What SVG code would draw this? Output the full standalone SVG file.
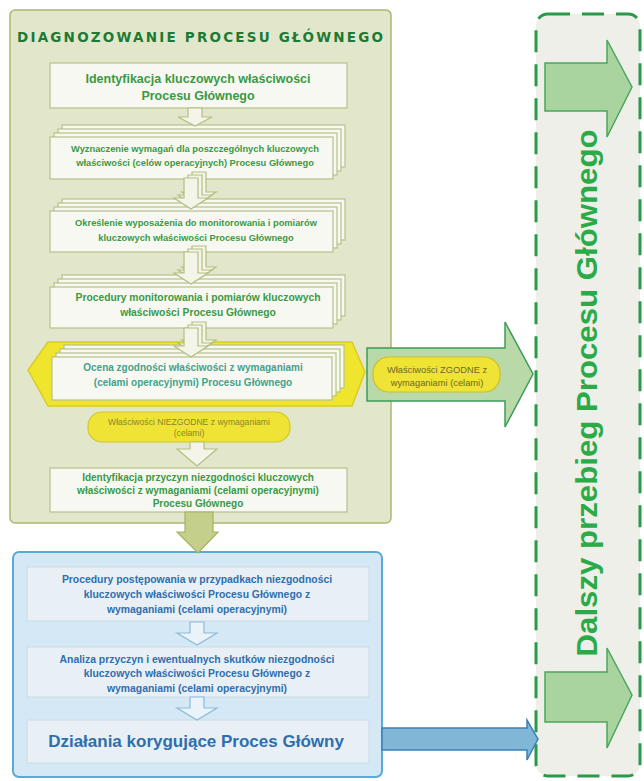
<svg xmlns="http://www.w3.org/2000/svg" width="644" height="781" viewBox="0 0 644 781">
<defs>
<style>
.gbox{fill:#f8f8f2;stroke:#b7c189;stroke-width:1.2}
.gt{font-family:"Liberation Sans",Arial,sans-serif;font-weight:bold;fill:#3a9a44;text-anchor:middle}
.bt{font-family:"Liberation Sans",Arial,sans-serif;font-weight:bold;fill:#2f6eae;text-anchor:middle}
.bbox{fill:#e9f0f5;stroke:#c9dbe8;stroke-width:1}
.harr{fill:#f4f5e8;stroke:#b3bf80;stroke-width:1.2}
.barr{fill:#eaf3f9;stroke:#8dbbd8;stroke-width:1.2}
</style>
</defs>
<rect width="644" height="781" fill="#ffffff"/>

<!-- Right dashed panel -->
<g id="dalszy">
<rect x="536" y="14" width="104" height="762" rx="12" fill="#efefea" stroke="#2a9a4a" stroke-width="3" stroke-dasharray="22 12"/>
<path d="M545,63 H607 V40 L632,87 L607,137 V111 H545 Z" fill="#a9d39f" stroke="#4aa85a" stroke-width="1.5"/>
<path d="M545,672 H607 V648 L632,695 L607,748 V722 H545 Z" fill="#a9d39f" stroke="#4aa85a" stroke-width="1.5"/>
<text transform="translate(597,393) rotate(-90)" font-family="'Liberation Sans',Arial,sans-serif" font-weight="bold" font-size="29" fill="#2aab48" text-anchor="middle" textLength="527" lengthAdjust="spacingAndGlyphs">Dalszy przebieg Procesu Głównego</text>
</g>

<!-- Green panel -->
<g id="diagnozowanie">
<rect x="10" y="10" width="381" height="513" rx="5" fill="#e2e7cc" stroke="#a9b872" stroke-width="1.5"/>
<text x="200" y="42" font-family="'DejaVu Sans',sans-serif" font-weight="bold" font-size="13.5" fill="#1d7a35" text-anchor="middle" textLength="366" lengthAdjust="spacing">DIAGNOZOWANIE  PROCESU  GŁÓWNEGO</text>
</g>

<g id="box1">
<rect class="gbox" x="50" y="63" width="297" height="45"/>
<text class="gt" x="198" y="83" font-size="12.5">Identyfikacja kluczowych właściwości</text>
<text class="gt" x="198" y="100" font-size="12.5">Procesu Głównego</text>
</g>

<g id="box2">
<rect class="gbox" x="62" y="125" width="283" height="42"/>
<rect class="gbox" x="58" y="129" width="283" height="42"/>
<rect class="gbox" x="54" y="133" width="283" height="42"/>
<rect class="gbox" x="50" y="137" width="283" height="42"/>
<text class="gt" x="195" y="152" font-size="9.3">Wyznaczenie wymagań  dla poszczególnych kluczowych</text>
<text class="gt" x="195" y="166" font-size="9.3">właściwości (celów operacyjnych) Procesu Głównego</text>
</g>

<g id="box3">
<rect class="gbox" x="62" y="199" width="283" height="41"/>
<rect class="gbox" x="58" y="203" width="283" height="41"/>
<rect class="gbox" x="54" y="207" width="283" height="41"/>
<rect class="gbox" x="50" y="211" width="283" height="41"/>
<text class="gt" x="196" y="226" font-size="9.3">Określenie wyposażenia do monitorowania i pomiarów</text>
<text class="gt" x="196" y="241" font-size="9.3">kluczowych  właściwości Procesu Głównego</text>
</g>

<g id="box4">
<rect class="gbox" x="62" y="275" width="283" height="41"/>
<rect class="gbox" x="58" y="279" width="283" height="41"/>
<rect class="gbox" x="54" y="283" width="283" height="41"/>
<rect class="gbox" x="50" y="287" width="283" height="41"/>
<text class="gt" x="198" y="301" font-size="10.3">Procedury monitorowania i pomiarów kluczowych</text>
<text class="gt" x="198" y="316" font-size="10.3">właściwości Procesu Głównego</text>
</g>

<g id="box5">
<path d="M48,342 H352 L365,372 L352,406 H48 L28,370 Z" fill="#eee52c" stroke="#d9cb25" stroke-width="1.5"/>
<rect class="gbox" x="64" y="345" width="280" height="43"/>
<rect class="gbox" x="60" y="349" width="280" height="43"/>
<rect class="gbox" x="56" y="353" width="280" height="43"/>
<rect class="gbox" x="52" y="357" width="280" height="43"/>
<text class="gt" x="193" y="371" font-size="10" style="fill:#45a08a">Ocena zgodności właściwości z wymaganiami</text>
<text class="gt" x="193" y="386" font-size="10" style="fill:#45a08a">(celami operacyjnymi) Procesu Głównego</text>
</g>

<g id="niezgodne">
<rect x="88" y="412" width="202" height="30" rx="14" fill="#efe435" stroke="#d4c62a" stroke-width="1.2"/>
<text x="189" y="425" font-family="'Liberation Sans',Arial,sans-serif" font-size="8.6" fill="#8a842c" text-anchor="middle">Właściwości NIEZGODNE z wymaganiami</text>
<text x="189" y="436" font-family="'Liberation Sans',Arial,sans-serif" font-size="8.6" fill="#8a842c" text-anchor="middle">(celami)</text>
</g>

<g id="box6">
<rect class="gbox" x="50" y="468" width="297" height="44"/>
<text class="gt" x="198" y="481" font-size="10">Identyfikacja przyczyn niezgodności kluczowych</text>
<text class="gt" x="198" y="494" font-size="10">właściwości z wymaganiami (celami operacyjnymi)</text>
<text class="gt" x="198" y="507" font-size="10">Procesu Głównego</text>
</g>

<!-- Blue panel -->
<g id="korygowanie">
<rect x="13" y="552" width="369" height="225" rx="6" fill="#d4e8f5" stroke="#5aaad8" stroke-width="2"/>
</g>

<g id="bbox1">
<rect class="bbox" x="27" y="567" width="342" height="54"/>
<text class="bt" x="197" y="583" font-size="10.4">Procedury postępowania w przypadkach  niezgodności</text>
<text class="bt" x="197" y="598" font-size="10.4">kluczowych  właściwości Procesu Głównego z</text>
<text class="bt" x="197" y="613" font-size="10.4">wymaganiami (celami operacyjnymi)</text>
</g>

<g id="bbox2">
<rect class="bbox" x="27" y="647" width="342" height="50"/>
<text class="bt" x="197" y="663" font-size="10.4">Analiza  przyczyn  i  ewentualnych skutków niezgodności</text>
<text class="bt" x="197" y="677" font-size="10.4">kluczowych właściwości Procesu Głównego z</text>
<text class="bt" x="197" y="692" font-size="10.4">wymaganiami (celami operacyjnymi)</text>
</g>

<g id="bbox3">
<rect class="bbox" x="27" y="720" width="342" height="43"/>
<text class="bt" x="196" y="747" font-size="17">Działania korygujące Proces Główny</text>
</g>

<!-- Connectors -->
<g id="connectors">
<path class="harr" d="M188,108 H202 V117 H212 L195,126 L178,117 H188 Z"/>
<path class="harr" d="M192,172 H206 V192 H216 L199,203 L182,192 H192 Z"/>
<path class="harr" d="M188,175 H202 V195 H212 L195,206 L178,195 H188 Z"/>
<path class="harr" d="M184,178 H198 V198 H208 L191,209 L174,198 H184 Z"/>
<path class="harr" d="M192,246 H206 V267 H216 L199,278 L182,267 H192 Z"/>
<path class="harr" d="M188,249 H202 V270 H212 L195,281 L178,270 H188 Z"/>
<path class="harr" d="M184,252 H198 V273 H208 L191,284 L174,273 H184 Z"/>
<path class="harr" d="M192,322 H206 V340 H216 L199,351 L182,340 H192 Z"/>
<path class="harr" d="M188,325 H202 V343 H212 L195,354 L178,343 H188 Z"/>
<path class="harr" d="M184,328 H198 V346 H208 L191,357 L174,346 H184 Z"/>
<path class="harr" d="M190,442 H204 V449 H217 L197,466 L177,449 H190 Z"/>
<path d="M185,512 H213 V532 H218 L198,553 L177,532 H185 Z" fill="#c4cf8c" stroke="#a5b160" stroke-width="1.2"/>
<path d="M367,348 H505 V322 L533,374 L505,427 V401 H367 Z" fill="#b9d9a9" stroke="#3d9c5a" stroke-width="1.5"/>
<rect x="373" y="357" width="127" height="35" rx="16" fill="#efe435" stroke="#cdbf28" stroke-width="1.2"/>
<text x="437" y="373" font-family="'Liberation Sans',Arial,sans-serif" font-size="9.3" fill="#6d6a22" text-anchor="middle">Właściwości ZGODNE z</text>
<text x="437" y="386" font-family="'Liberation Sans',Arial,sans-serif" font-size="9.3" fill="#6d6a22" text-anchor="middle">wymaganiami (celami)</text>
<path class="barr" d="M190,622 H204 V633 H217 L197,645 L177,633 H190 Z"/>
<path class="barr" d="M190,697 H204 V708 H217 L197,720 L177,708 H190 Z"/>
<path d="M382,728 H527 V720 L538,739 L527,760 V750 H382 Z" fill="#80b6d6" stroke="#3a80b6" stroke-width="1.5"/>
</g>
</svg>
